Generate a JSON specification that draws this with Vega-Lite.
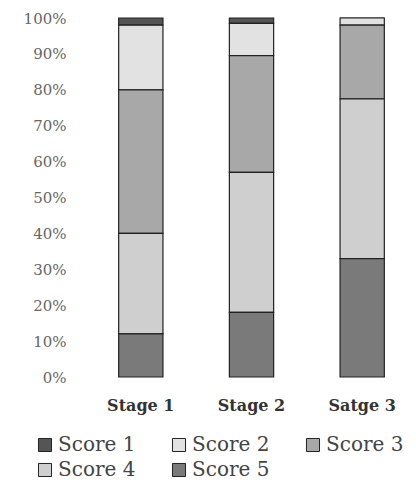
{
  "$schema": "https://vega.github.io/schema/vega-lite/v6.json",
  "width": 321,
  "height": 359,
  "autosize": {"type": "none"},
  "padding": {"left": 91, "top": 18, "right": 4, "bottom": 116},
  "background": "white",
  "config": {"view": {"stroke": null}, "font": "DejaVu Serif"},
  "data": {
    "values": [
      {"stage": "Stage 1", "score": "Score 1", "pct": 2},
      {"stage": "Stage 1", "score": "Score 2", "pct": 18},
      {"stage": "Stage 1", "score": "Score 3", "pct": 40},
      {"stage": "Stage 1", "score": "Score 4", "pct": 28},
      {"stage": "Stage 1", "score": "Score 5", "pct": 12},
      {"stage": "Stage 2", "score": "Score 1", "pct": 1.5},
      {"stage": "Stage 2", "score": "Score 2", "pct": 9},
      {"stage": "Stage 2", "score": "Score 3", "pct": 32.5},
      {"stage": "Stage 2", "score": "Score 4", "pct": 39},
      {"stage": "Stage 2", "score": "Score 5", "pct": 18},
      {"stage": "Satge 3", "score": "Score 1", "pct": 0},
      {"stage": "Satge 3", "score": "Score 2", "pct": 2},
      {"stage": "Satge 3", "score": "Score 3", "pct": 20.5},
      {"stage": "Satge 3", "score": "Score 4", "pct": 44.5},
      {"stage": "Satge 3", "score": "Score 5", "pct": 33}
    ]
  },
  "mark": {"type": "bar", "stroke": "#222", "strokeWidth": 1.2},
  "encoding": {
    "x": {
      "field": "stage", "type": "nominal", "sort": null,
      "scale": {"paddingInner": 0.6, "paddingOuter": 0.25},
      "axis": {"title": null, "labelAngle": 0, "domain": false, "ticks": false, "labelPadding": 20,
               "labelFont": "DejaVu Serif", "labelFontSize": 16, "labelFontWeight": "bold", "labelColor": "#333"}
    },
    "y": {
      "field": "pct", "type": "quantitative", "stack": "normalize",
      "scale": {"domain": [0, 1]},
      "axis": {"title": null, "values": [0, 0.1, 0.2, 0.3, 0.4, 0.5, 0.6, 0.7, 0.8, 0.9, 1],
               "format": ".0%", "domain": false, "ticks": false, "grid": false, "labelPadding": 25,
               "labelFont": "DejaVu Serif", "labelFontSize": 15, "labelColor": "#666"}
    },
    "fill": {
      "field": "score", "type": "nominal",
      "scale": {"domain": ["Score 1", "Score 2", "Score 3", "Score 4", "Score 5"],
                "range": ["#555555", "#e2e2e2", "#a8a8a8", "#cfcfcf", "#7a7a7a"]},
      "legend": {"title": null, "orient": "none", "legendX": -56, "legendY": 417, "columns": 3,
                 "direction": "horizontal", "symbolType": "square", "symbolSize": 170,
                 "symbolStrokeColor": "#222", "symbolStrokeWidth": 1, "symbolOpacity": 1,
                 "labelFont": "DejaVu Serif", "labelFontSize": 20, "labelColor": "#444",
                 "labelOffset": 3, "rowPadding": 5, "columnPadding": 33, "labelLimit": 200}
    },
    "order": {"field": "score", "sort": "descending"}
  }
}
